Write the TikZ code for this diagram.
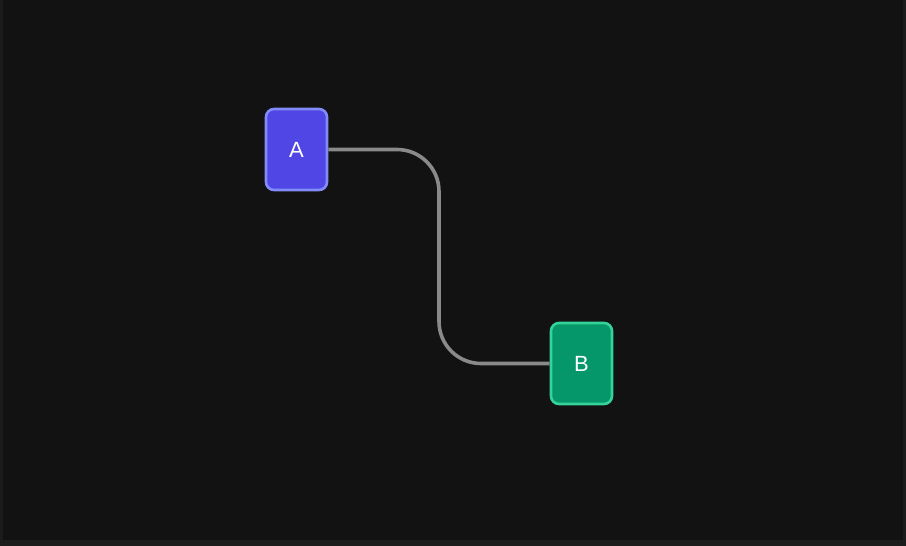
\documentclass[tikz,border=0pt]{standalone}
\usepackage{fontspec}
\setmainfont{Liberation Sans}
\usetikzlibrary{positioning}

\definecolor{canvas}{HTML}{121212}
\definecolor{frame}{HTML}{1C1C1C}
\definecolor{indigofill}{HTML}{4F46E5}
\definecolor{indigoline}{HTML}{818CF8}
\definecolor{emeraldfill}{HTML}{059669}
\definecolor{emeraldline}{HTML}{34D399}
\definecolor{wire}{HTML}{8A8A8A}

\tikzset{
    card/.style={rectangle, rounded corners=8pt, line width=2.6pt,
        minimum width=61pt, minimum height=81pt, inner sep=0pt,
        text=white, font=\fontsize{22}{26}\selectfont},
    link/.style={wire, line width=3.6pt, rounded corners=42pt}
}

\begin{document}
\begin{tikzpicture}[x=1pt, y=-1pt]
    % canvas
    \fill[frame] (0, 0) rectangle (906, 546);
    \fill[canvas] (3, 0) rectangle (903, 540);
    \useasboundingbox (0, 0) rectangle (906, 546);

    % nodes
    \node[card, fill=indigofill, draw=indigoline] (a) at (296.5, 149.5) {A};
    \node[card, fill=emeraldfill, draw=emeraldline] (b) at (581.5, 363.5) {B};

    % connector
    \coordinate (mid) at (439, 0);
    \draw[link] (a.east) -- (a.east -| mid) -- (b.west -| mid) -- (b.west);
\end{tikzpicture}
\end{document}
